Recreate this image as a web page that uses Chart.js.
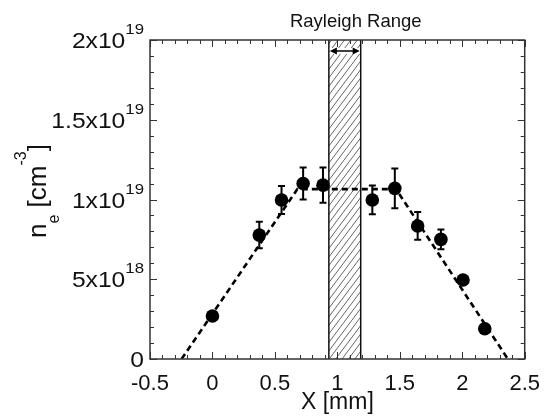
<!DOCTYPE html>
<html><head><meta charset="utf-8">
<script src="https://cdn.jsdelivr.net/npm/chart.js@4.4.0/dist/chart.umd.min.js"></script>
<style>html,body{margin:0;padding:0;background:#fff;}</style>
</head><body>
<canvas id="c" width="552" height="416" style="width:552px;height:416px;display:block"></canvas>
<script>
// ---- data ----
const xPos       = [0, 0.375, 0.553, 0.726, 0.885, 1.28, 1.46, 1.643, 1.829, 2.006, 2.18];
const density    = [0.27e19, 0.777e19, 0.997e19, 1.10e19, 1.09e19, 0.997e19, 1.07e19, 0.834e19, 0.75e19, 0.495e19, 0.19e19];
const densityErr = [0.02e19, 0.083e19, 0.088e19, 0.10e19, 0.11e19, 0.09e19, 0.125e19, 0.087e19, 0.062e19, 0.02e19, 0.02e19];
const fitX = [-0.247, 0.68, 1.47, 2.365];
const fitY = [0, 1.065e19, 1.065e19, 0];
const rayleighRange = [0.932, 1.187];
const xTickLabels = ['-0.5', '0', '0.5', '1', '1.5', '2', '2.5'];
const yTickValues = [0, 5e18, 1e19, 1.5e19, 2e19];
const yTickBases  = ['0', '5x10', '1x10', '1.5x10', '2x10'];
const yTickExps   = ['', '18', '19', '19', '19'];
const xMinorStep = 0.1, yMinorStep = 1e18;

const FONT = '"Liberation Sans", Arial, Helvetica, sans-serif';

const decor = {
  id: 'decor',
  beforeDatasetsDraw(chart) {
    const {ctx, chartArea: a, scales: {x, y}} = chart;
    const bl = x.getPixelForValue(rayleighRange[0]);
    const br = x.getPixelForValue(rayleighRange[1]);
    ctx.save();
    ctx.beginPath();
    ctx.rect(bl, a.top, br - bl, a.bottom - a.top);
    ctx.clip();
    ctx.strokeStyle = '#666';
    ctx.lineWidth = 1;
    const h = a.bottom - a.top;
    const run = h * 0.75;
    for (let sx = bl - run - 10; sx < br + 10; sx += 6.4) {
      ctx.beginPath();
      ctx.moveTo(sx, a.bottom);
      ctx.lineTo(sx + run, a.top);
      ctx.stroke();
    }
    ctx.restore();
    ctx.save();
    ctx.strokeStyle = '#111';
    ctx.lineWidth = 1.5;
    ctx.beginPath();
    ctx.moveTo(bl, a.top); ctx.lineTo(bl, a.bottom);
    ctx.moveTo(br, a.top); ctx.lineTo(br, a.bottom);
    ctx.stroke();
    // double arrow
    const ay = a.top + 11;
    ctx.fillStyle = '#fff';
    ctx.fillRect(bl + 1, ay - 3, br - bl - 2, 6);
    ctx.strokeStyle = '#000';
    ctx.fillStyle = '#000';
    ctx.lineWidth = 1.5;
    ctx.beginPath();
    ctx.moveTo(bl + 3, ay); ctx.lineTo(br - 3, ay); ctx.stroke();
    ctx.beginPath();
    ctx.moveTo(bl + 1, ay); ctx.lineTo(bl + 8, ay - 3.5); ctx.lineTo(bl + 8, ay + 3.5); ctx.closePath(); ctx.fill();
    ctx.beginPath();
    ctx.moveTo(br - 1, ay); ctx.lineTo(br - 8, ay - 3.5); ctx.lineTo(br - 8, ay + 3.5); ctx.closePath(); ctx.fill();
    ctx.restore();
  },
  afterDatasetsDraw(chart) {
    const {ctx, chartArea: a, scales: {x, y}} = chart;
    ctx.save();
    // error bars
    ctx.strokeStyle = '#000';
    ctx.lineWidth = 2;
    xPos.forEach((xv, i) => {
      const px = x.getPixelForValue(xv);
      const y1 = y.getPixelForValue(density[i] - densityErr[i]);
      const y2 = y.getPixelForValue(density[i] + densityErr[i]);
      ctx.beginPath();
      ctx.moveTo(px, y1); ctx.lineTo(px, y2);
      ctx.moveTo(px - 3.5, y1); ctx.lineTo(px + 3.5, y1);
      ctx.moveTo(px - 3.5, y2); ctx.lineTo(px + 3.5, y2);
      ctx.stroke();
    });
    // frame
    ctx.strokeStyle = '#333';
    ctx.lineWidth = 1.5;
    ctx.strokeRect(a.left, a.top, a.right - a.left, a.bottom - a.top);
    // inward ticks
    ctx.lineWidth = 1;
    ctx.beginPath();
    const nx = Math.round((x.max - x.min) / xMinorStep);
    for (let k = 0; k <= nx; k++) {
      const v = x.min + k * xMinorStep;
      const px = Math.round(x.getPixelForValue(v)) + 0.5;
      const len = (k % 5 === 0) ? 7 : 4;
      ctx.moveTo(px, a.bottom); ctx.lineTo(px, a.bottom - len);
      ctx.moveTo(px, a.top); ctx.lineTo(px, a.top + len);
    }
    const ny = Math.round((y.max - y.min) / yMinorStep);
    for (let k = 0; k <= ny; k++) {
      const v = y.min + k * yMinorStep;
      const py = Math.round(y.getPixelForValue(v)) + 0.5;
      const len = (k % 5 === 0) ? 7 : 4;
      ctx.moveTo(a.left, py); ctx.lineTo(a.left + len, py);
      ctx.moveTo(a.right, py); ctx.lineTo(a.right - len, py);
    }
    ctx.stroke();
    // y tick labels with superscript exponents (slightly wide, as in the reference)
    ctx.fillStyle = '#111';
    ctx.textBaseline = 'alphabetic';
    const right = a.left - 6;
    yTickValues.forEach((v, i) => {
      const py = y.getPixelForValue(v);
      ctx.save();
      ctx.translate(right, 0);
      ctx.scale(1.12, 1);
      ctx.font = '15px ' + FONT;
      const ew = yTickExps[i] ? ctx.measureText(yTickExps[i]).width : 0;
      ctx.textAlign = 'left';
      if (yTickExps[i]) ctx.fillText(yTickExps[i], -ew, py - 6);
      ctx.font = '22px ' + FONT;
      ctx.textAlign = 'right';
      ctx.fillText(yTickBases[i], -ew, py + 8);
      ctx.restore();
    });
    // y axis title: n_e [cm^-3]
    ctx.translate(46, 238);
    ctx.rotate(-Math.PI / 2);
    ctx.textAlign = 'left';
    let cx = 0;
    const part = (t, size, dy) => {
      ctx.font = size + 'px ' + FONT;
      ctx.fillText(t, cx, dy);
      cx += ctx.measureText(t).width;
    };
    part('n', 26, 0);
    part('e', 16, 13);
    part(' [cm', 26, 0);
    part('-3', 16, -20);
    part(']', 26, 0);
    ctx.restore();
    // Rayleigh Range label
    ctx.save();
    ctx.fillStyle = '#111';
    ctx.font = '18.5px ' + FONT;
    ctx.textAlign = 'center';
    ctx.textBaseline = 'alphabetic';
    const bc = (x.getPixelForValue(rayleighRange[0]) + x.getPixelForValue(rayleighRange[1])) / 2;
    ctx.fillText('Rayleigh Range', bc + 11, 27);
    ctx.restore();
  }
};

new Chart(document.getElementById('c'), {
  type: 'scatter',
  data: {
    datasets: [
      {
        label: 'fit',
        data: fitX.map((v, i) => ({x: v, y: fitY[i]})),
        showLine: true,
        borderColor: '#000',
        borderWidth: 2.6,
        borderDash: [6, 4],
        pointRadius: 0,
        fill: false,
        order: 2
      },
      {
        label: 'n_e',
        data: xPos.map((v, i) => ({x: v, y: density[i]})),
        showLine: false,
        pointRadius: 6.8,
        pointBackgroundColor: '#000',
        pointBorderColor: '#000',
        pointBorderWidth: 0,
        order: 1
      }
    ]
  },
  options: {
    responsive: false,
    devicePixelRatio: 1,
    animation: false,
    layout: {padding: {left: 0, top: 40, right: 25, bottom: 0}},
    plugins: {legend: {display: false}, tooltip: {enabled: false}},
    scales: {
      x: {
        type: 'linear', min: -0.5, max: 2.5,
        grid: {display: false, drawTicks: false},
        border: {display: false},
        ticks: {
          stepSize: 0.5, padding: 12, color: '#111',
          font: {family: FONT, size: 22},
          callback: (v) => { const i = Math.round((v + 0.5) / 0.5); return xTickLabels[i]; }
        },
        title: {display: true, text: 'X [mm]', color: '#111', font: {family: FONT, size: 23}, padding: {top: 0, bottom: 0}},
        afterFit: (s) => { s.height = 57; }
      },
      y: {
        type: 'linear', min: 0, max: 2e19,
        grid: {display: false, drawTicks: false},
        border: {display: false},
        ticks: {display: false},
        afterFit: (s) => { s.width = 150; }
      }
    }
  },
  plugins: [decor]
});
</script>
</body></html>
